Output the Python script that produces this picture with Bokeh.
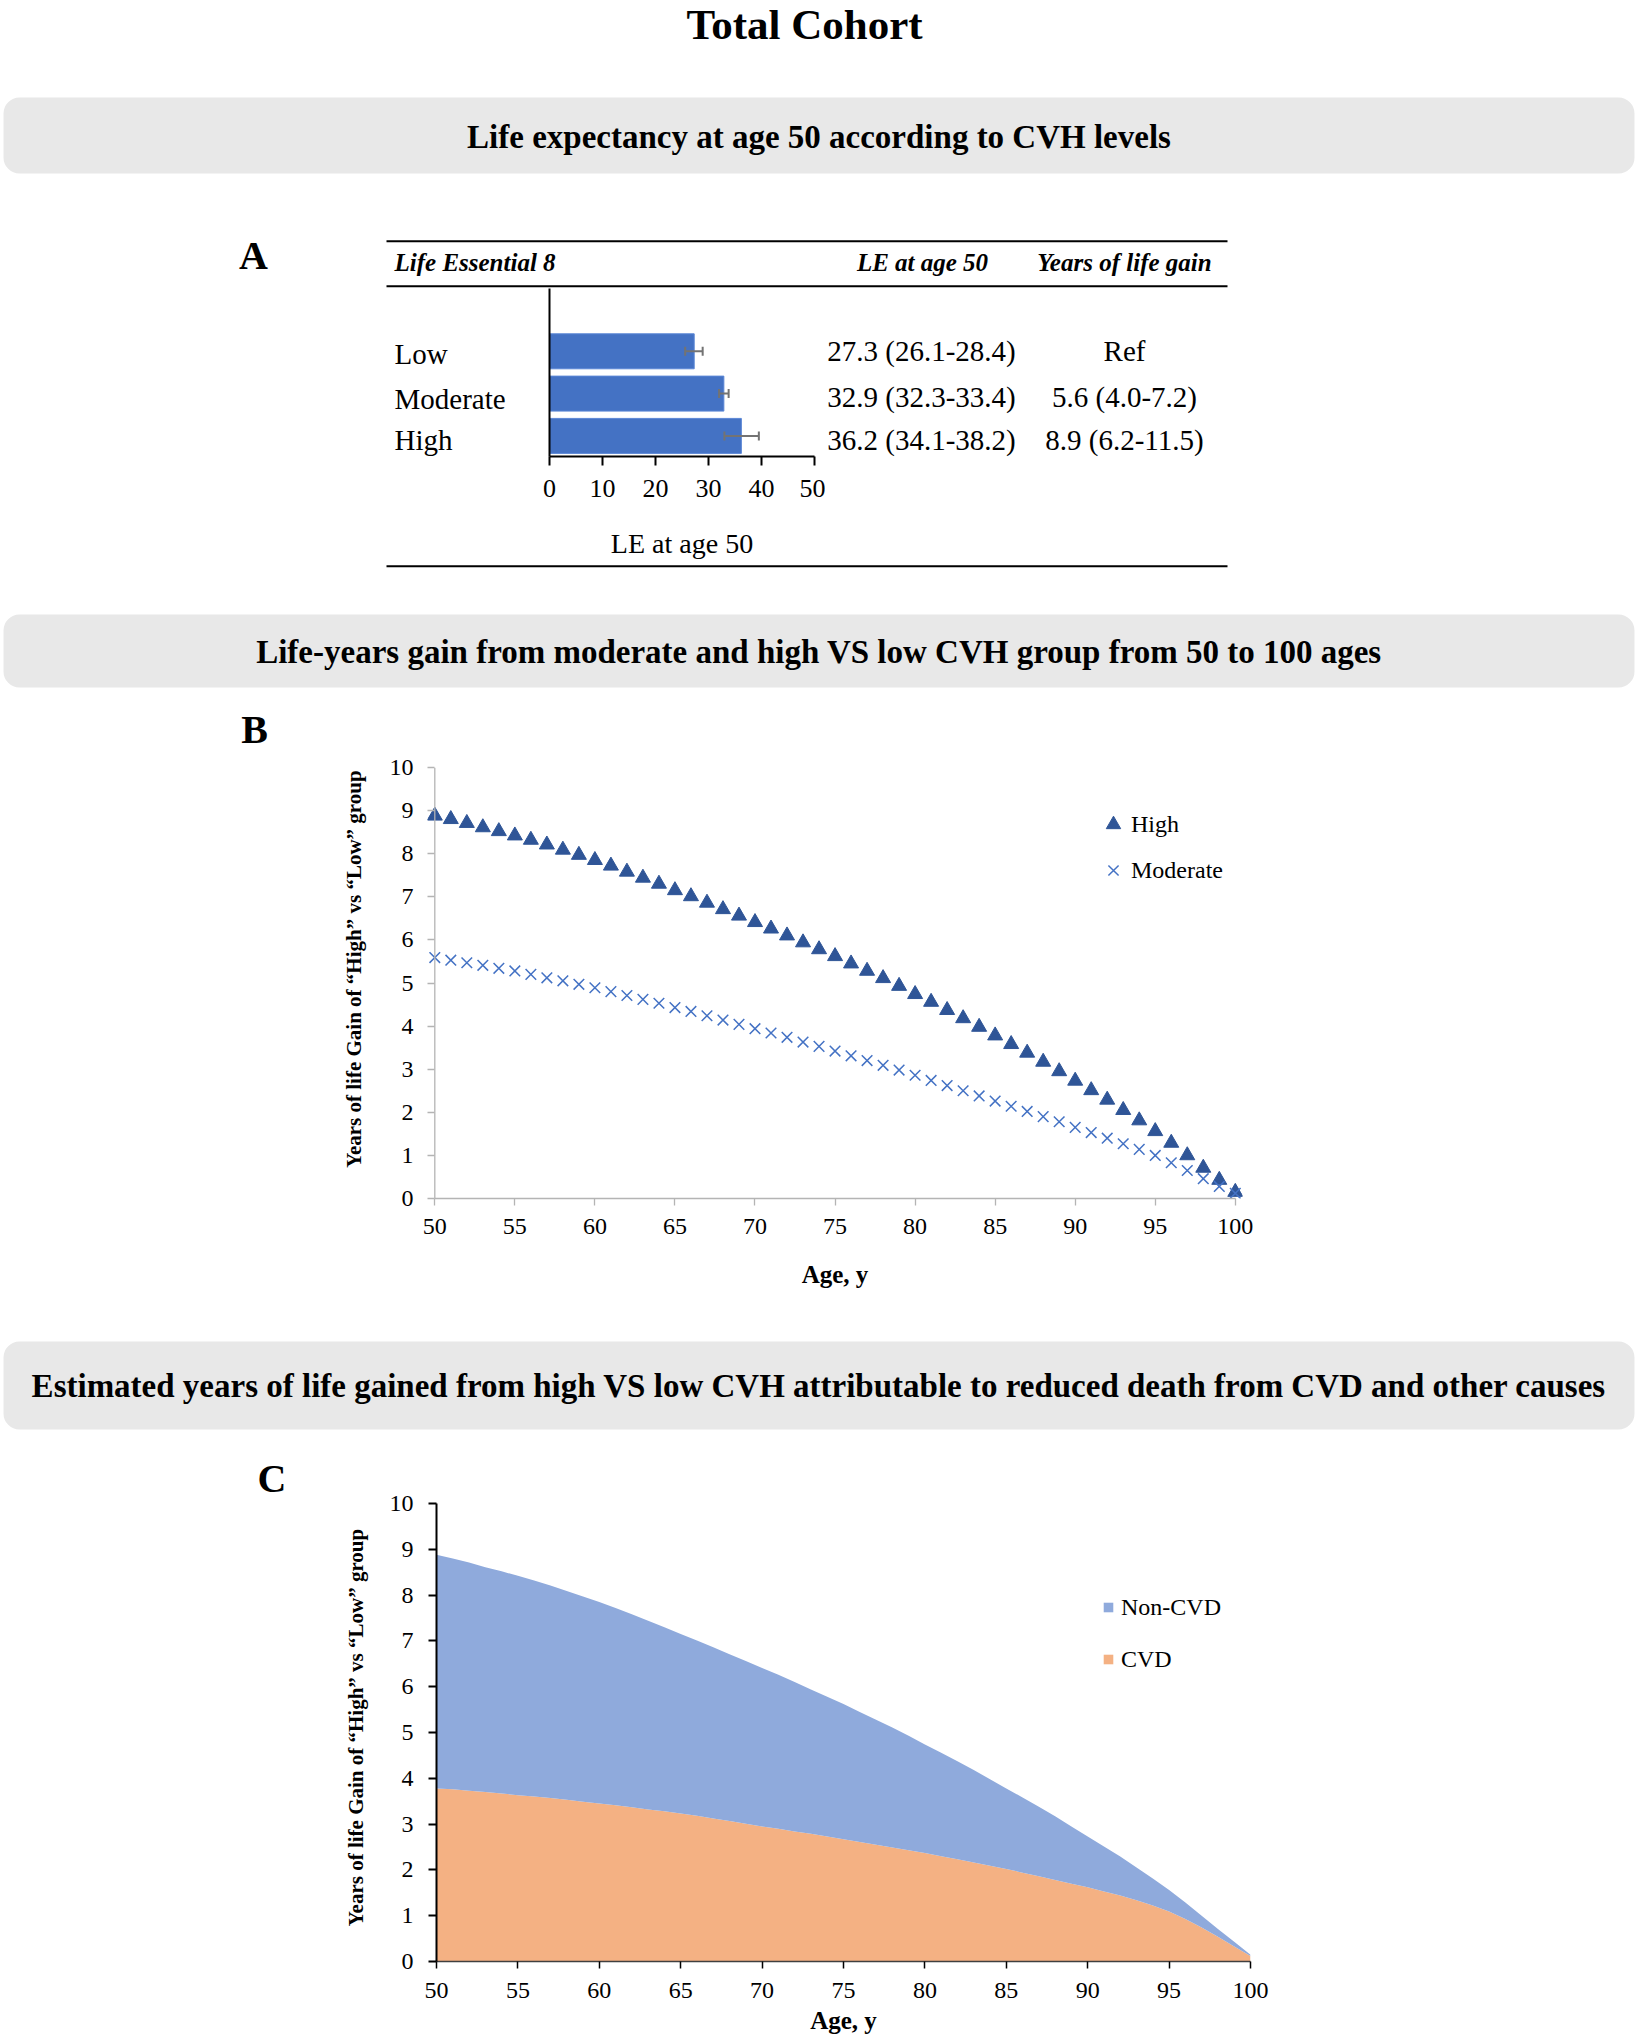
import math
from bokeh.plotting import figure
from bokeh.models import (Range1d, LinearAxis, FixedTicker, ColumnDataSource, Whisker,
                          TeeHead, Legend, LegendItem, Quad, Span, Title)
from bokeh.layouts import column, row
from bokeh.core.properties import value
from bokeh.embed import file_html
from bokeh.resources import INLINE

FONT = "Liberation Serif"

# ---------------- data ----------------
main_title = "Total Cohort"
banner_titles = [
    "Life expectancy at age 50 according to CVH levels",
    "Life-years gain from moderate and high VS low CVH group from 50 to 100 ages",
    "Estimated years of life gained from high VS low CVH attributable to reduced death from CVD and other causes",
]
panel_letters = ["A", "B", "C"]

table_headers = ["Life Essential 8", "LE at age 50", "Years of life gain"]
cvh_levels = ["Low", "Moderate", "High"]
le_at_50 = [27.3, 32.9, 36.2]
le_err_low = [25.6, 32.0, 33.0]
le_err_high = [28.9, 33.8, 39.5]
le_text = ["27.3 (26.1-28.4)", "32.9 (32.3-33.4)", "36.2 (34.1-38.2)"]
gain_text = ["Ref", "5.6 (4.0-7.2)", "8.9 (6.2-11.5)"]
le_ticks = [0, 10, 20, 30, 40, 50]
le_axis_label = "LE at age 50"

ages = list(range(50, 101))
high_gain = [8.88, 8.80, 8.71, 8.61, 8.52, 8.42, 8.32, 8.21, 8.09, 7.97,
             7.85, 7.72, 7.58, 7.44, 7.30, 7.15, 7.01, 6.86, 6.71, 6.56,
             6.41, 6.26, 6.10, 5.94, 5.78, 5.62, 5.45, 5.28, 5.11, 4.93,
             4.74, 4.56, 4.37, 4.18, 3.98, 3.78, 3.58, 3.38, 3.17, 2.95,
             2.73, 2.51, 2.29, 2.05, 1.81, 1.56, 1.29, 1.00, 0.71, 0.43, 0.15]
moderate_gain = [5.59, 5.53, 5.47, 5.41, 5.34, 5.28, 5.20, 5.12, 5.05, 4.97,
                 4.89, 4.80, 4.71, 4.62, 4.53, 4.43, 4.34, 4.24, 4.14, 4.04,
                 3.94, 3.84, 3.74, 3.63, 3.53, 3.42, 3.31, 3.20, 3.09, 2.98,
                 2.86, 2.74, 2.62, 2.50, 2.38, 2.26, 2.14, 2.02, 1.90, 1.78,
                 1.65, 1.53, 1.40, 1.27, 1.14, 1.00, 0.83, 0.65, 0.46, 0.28, 0.12]
cvd_gain = [3.78, 3.76, 3.73, 3.70, 3.67, 3.63, 3.60, 3.57, 3.53, 3.49,
            3.45, 3.41, 3.37, 3.32, 3.28, 3.23, 3.18, 3.12, 3.07, 3.01,
            2.95, 2.90, 2.84, 2.79, 2.73, 2.67, 2.61, 2.55, 2.49, 2.43,
            2.37, 2.30, 2.23, 2.16, 2.09, 2.02, 1.94, 1.86, 1.78, 1.70,
            1.62, 1.53, 1.44, 1.34, 1.22, 1.09, 0.93, 0.74, 0.54, 0.33, 0.12]
age_ticks = [50, 55, 60, 65, 70, 75, 80, 85, 90, 95, 100]
gain_ticks = [0, 1, 2, 3, 4, 5, 6, 7, 8, 9, 10]
age_label = "Age, y"
gain_label_b = "Years of life Gain of  \u201cHigh\u201d vs \u201cLow\u201d group"
gain_label_c = "Years of life Gain of \u201cHigh\u201d vs \u201cLow\u201d group"
series_b = ["High", "Moderate"]
series_c = ["Non-CVD", "CVD"]

# ---------------- styles ----------------
BANNER = "#E8E8E8"
BAR = "#4472C4"
ERR = "#737373"
HIGH_C = "#2F5597"
MOD_C = "#4472C4"
NONCVD_C = "#8FAADC"
CVD_C = "#F4B183"
GRAY_AX = "#B4B4B4"
HAS_RADIUS = "border_radius" in Quad.properties()


def deco(x0, x1, y0, y1, fy0=None, fy1=None, top=0, bottom=0):
    """Decoration canvas in page pixel coordinates; (fy0, fy1) is the frame's span."""
    fy0 = y0 if fy0 is None else fy0
    fy1 = y1 if fy1 is None else fy1
    p = figure(width=x1 - x0, height=y1 - y0, x_range=Range1d(x0, x1),
               y_range=Range1d(fy1, fy0), toolbar_location=None, output_backend="svg",
               min_border_left=0, min_border_right=0, min_border_top=top,
               min_border_bottom=bottom, x_axis_type=None, y_axis_type=None)
    p.outline_line_color = None
    p.background_fill_color = "white"
    p.border_fill_color = "white"
    return p


def txt(p, xs, ys, texts, size, style="normal", align="center", angle=0.0):
    p.text(x=xs, y=ys, text=texts, text_font=value(FONT), text_font_size=f"{size}px",
           text_font_style=style, text_align=align, text_baseline="middle",
           text_color="black", angle=angle)


def banner(p, top, bottom, title, cy):
    kw = dict(left=3, right=1634, top=top, bottom=bottom, fill_color=BANNER, line_color=None)
    if HAS_RADIUS:
        kw["border_radius"] = 16
    p.quad(**kw)
    txt(p, [818.5], [cy], [title], 33, "bold")


def hline(p, y):
    p.segment(x0=[386], x1=[1227], y0=[y], y1=[y], line_color="black", line_width=2)


def style_axis(ax, color, width, tick_len, size, standoff, tick_in=0):
    ax.axis_line_color = color
    ax.axis_line_width = width
    ax.major_tick_line_color = color
    ax.major_tick_line_width = width
    ax.major_tick_in = tick_in
    ax.major_tick_out = tick_len
    ax.minor_tick_line_color = None
    ax.major_label_text_font = FONT
    ax.major_label_text_font_size = f"{size}px"
    ax.major_label_text_color = "black"
    ax.major_label_standoff = standoff
    ax.axis_label_text_font = FONT
    ax.axis_label_text_color = "black"


# ---------------- band 1: title, banner 1, table header ----------------
band1 = deco(0, 1637, 0, 288)
txt(band1, [804], [24], [main_title], 43, "bold")
banner(band1, 97, 173, banner_titles[0], 136)
txt(band1, [253], [255], [panel_letters[0]], 40, "bold")
hline(band1, 240.7)
hline(band1, 285.7)
txt(band1, [394], [262], [table_headers[0]], 25, "bold italic", align="left")
txt(band1, [922, 1124], [262, 262], table_headers[1:], 25, "bold italic")

# ---------------- band 2: panel A (frame 288..456, x 549..814) ----------------
a_left = deco(0, 535, 288, 564, 288, 456, 0, 108)
txt(a_left, [394] * 3, [353.3, 398.8, 439.5], cvh_levels, 29, align="left")

srcA = ColumnDataSource(dict(pos=list(range(len(cvh_levels))), le=le_at_50,
                             lo=le_err_low, hi=le_err_high))
pA = figure(width=290, height=276, x_range=Range1d(0, 50), y_range=Range1d(2.487, -1.485),
            toolbar_location=None, output_backend="svg", x_axis_type=None, y_axis_type=None,
            min_border_left=14, min_border_right=11, min_border_top=0, min_border_bottom=108)
pA.outline_line_color = None
pA.hbar(y="pos", left=0, right="le", height=0.827, source=srcA,
        fill_color=BAR, line_color="#5B87D6", line_width=1)
head = dict(size=9, line_color=ERR, line_width=2)
pA.add_layout(Whisker(source=srcA, base="pos", lower="lo", upper="hi", dimension="width",
                      line_color=ERR, line_width=2, upper_head=TeeHead(**head),
                      lower_head=TeeHead(**head), level="overlay"))
axA = LinearAxis(ticker=FixedTicker(ticks=le_ticks), axis_label=le_axis_label)
style_axis(axA, "black", 2, 9, 26, 14)
axA.axis_label_text_font_size = "28px"
axA.axis_label_text_font_style = "normal"
axA.axis_label_standoff = 28
pA.add_layout(axA, "below")
ayA = LinearAxis(ticker=FixedTicker(ticks=[]))
style_axis(ayA, "black", 2, 0, 1, 0)
pA.add_layout(ayA, "left")

a_right = deco(825, 1637, 288, 564, 288, 456, 0, 108)
txt(a_right, [921] * 3, [350.5, 396.3, 439.5], le_text, 29)
txt(a_right, [1124] * 3, [350.5, 396.3, 439.5], gain_text, 29)

# ---------------- band 3: table bottom, banner 2, letter B ----------------
band3 = deco(0, 1637, 564, 751)
hline(band3, 565.7)
banner(band3, 614, 687, banner_titles[1], 651)
txt(band3, [254], [728.5], [panel_letters[1]], 40, "bold")

# ---------------- band 4: panel B (frame y 767..1198, x 427..1242) ----------------
b_left = deco(0, 372, 751, 1300, 767, 1198, 16, 102)
txt(b_left, [353], [966], [gain_label_b], 21, "bold", angle=math.pi / 2)

srcB = ColumnDataSource(dict(age=ages, high=high_gain, mod=moderate_gain))
pB = figure(width=1265, height=549, x_range=Range1d(49.544, 100.45), y_range=Range1d(0, 10),
            toolbar_location=None, output_backend="svg", x_axis_type=None, y_axis_type=None,
            min_border_left=55, min_border_right=395, min_border_top=16, min_border_bottom=102)
pB.outline_line_color = None
pB.add_layout(Span(location=50, dimension="height", line_color=GRAY_AX, line_width=1.3))
rh = pB.scatter("age", "high", source=srcB, marker="triangle", size=15,
                fill_color=HIGH_C, line_color=HIGH_C)
rm = pB.scatter("age", "mod", source=srcB, marker="x", size=15, line_color=MOD_C, line_width=1.5)
axB = LinearAxis(ticker=FixedTicker(ticks=age_ticks), axis_label=age_label, bounds=(50, 100))
style_axis(axB, GRAY_AX, 1.3, 7, 24, 13)
axB.axis_label_text_font_size = "25px"
axB.axis_label_text_font_style = "bold"
axB.axis_label_standoff = 24
pB.add_layout(axB, "below")
ayB = LinearAxis(ticker=FixedTicker(ticks=gain_ticks))
style_axis(ayB, GRAY_AX, 1.3, 0, 24, 14, tick_in=7)
ayB.axis_line_color = None
pB.add_layout(ayB, "left")
legB = Legend(items=[LegendItem(label=series_b[0], renderers=[rh]),
                     LegendItem(label=series_b[1], renderers=[rm])],
              location=(668, 310), orientation="vertical", glyph_width=36, glyph_height=36,
              label_height=36, label_standoff=0, spacing=10, padding=0, margin=0,
              border_line_color=None, background_fill_alpha=0,
              label_text_font=FONT, label_text_font_size="24px", label_text_color="black")
pB.add_layout(legB)

# ---------------- band 5: banner 3 ----------------
band5 = deco(0, 1637, 1300, 1445)
banner(band5, 1341, 1429, banner_titles[2], 1385)

# ---------------- band 6: panel C (frame y 1503..1961, x 436..1250) ----------------
c_left = deco(0, 372, 1445, 2040, 1503, 1961, 58, 79)
c_left.add_layout(Title(text=panel_letters[2], text_font=FONT, text_font_size="40px",
                        text_font_style="bold", text_color="black", align="left",
                        offset=257, standoff=6), "above")
txt(c_left, [355], [1727], [gain_label_c], 21, "bold", angle=math.pi / 2)

srcC = ColumnDataSource(dict(age=ages, cvd=cvd_gain,
                             noncvd=[t - c for t, c in zip(high_gain, cvd_gain)]))
pC = figure(width=1265, height=595, x_range=Range1d(50, 100), y_range=Range1d(0, 10),
            toolbar_location=None, output_backend="svg", x_axis_type=None, y_axis_type=None,
            min_border_left=64, min_border_right=387, min_border_top=58, min_border_bottom=79)
pC.outline_line_color = None
r_cvd, r_non = pC.varea_stack(["cvd", "noncvd"], x="age", source=srcC, color=[CVD_C, NONCVD_C])
axC = LinearAxis(ticker=FixedTicker(ticks=age_ticks), axis_label=age_label)
style_axis(axC, "#404040", 1.5, 7, 24, 14)
axC.major_tick_line_color = "black"
axC.axis_label_text_font_size = "25px"
axC.axis_label_text_font_style = "bold"
axC.axis_label_standoff = 6
pC.add_layout(axC, "below")
ayC = LinearAxis(ticker=FixedTicker(ticks=gain_ticks))
style_axis(ayC, "black", 2, 8, 24, 15)
pC.add_layout(ayC, "left")
legC = Legend(items=[LegendItem(label=series_c[0], renderers=[r_non]),
                     LegendItem(label=series_c[1], renderers=[r_cvd])],
              location=(666, 287), orientation="vertical", glyph_width=12, glyph_height=12,
              label_height=30, label_standoff=7, spacing=22, padding=0, margin=0,
              border_line_color=None, background_fill_alpha=0,
              label_text_font=FONT, label_text_font_size="24px", label_text_color="black")
pC.add_layout(legC)

layout = column(band1, row(a_left, pA, a_right), band3, row(b_left, pB), band5, row(c_left, pC))

open("out.html", "w").write(file_html(layout, INLINE))
